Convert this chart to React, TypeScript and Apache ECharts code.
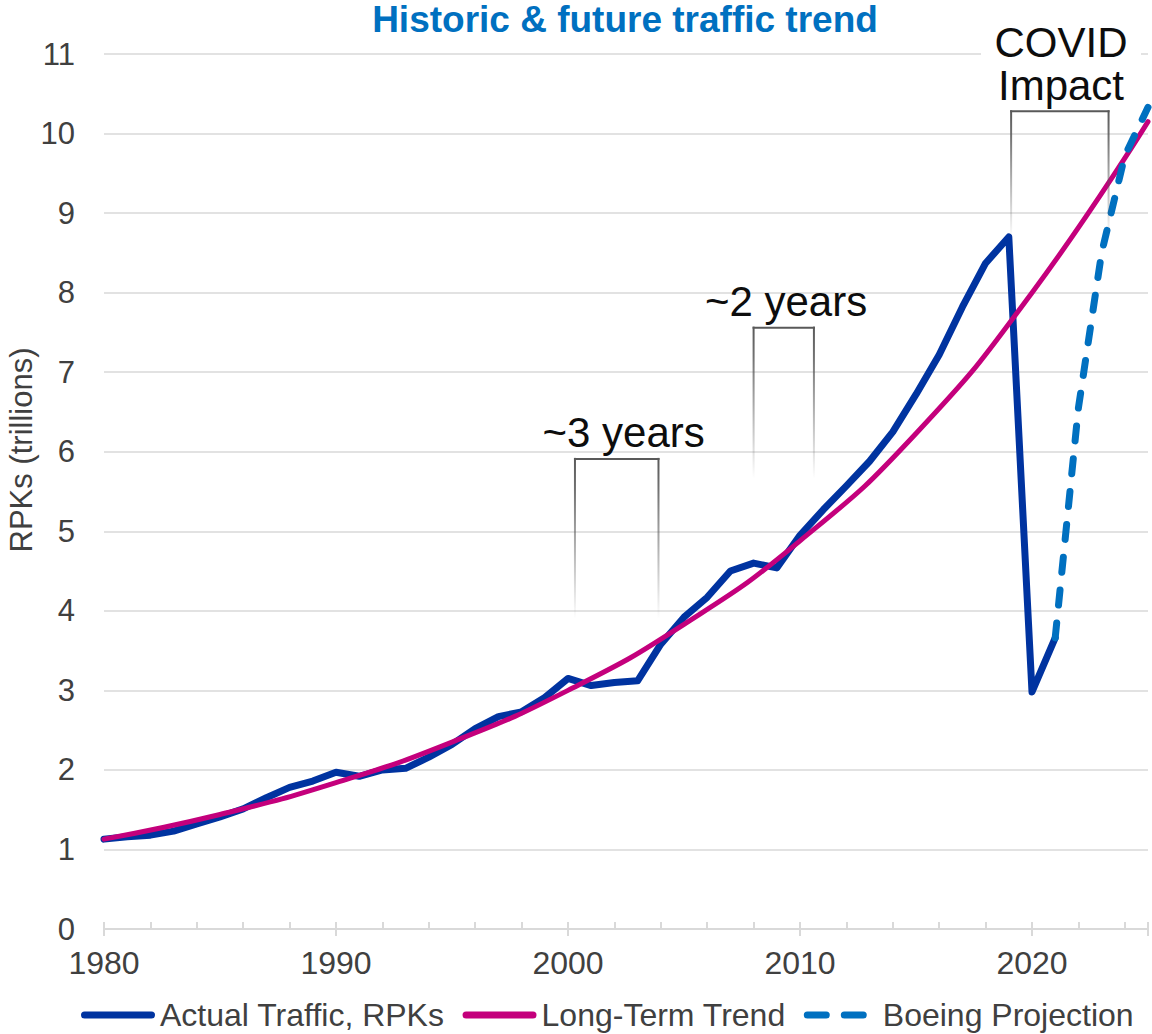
import React, { useEffect, useRef } from "react";
import * as echarts from "echarts";

const actualYears = [1980,1981,1982,1983,1984,1985,1986,1987,1988,1989,1990,1991,1992,1993,1994,1995,1996,1997,1998,1999,2000,2001,2002,2003,2004,2005,2006,2007,2008,2009,2010,2011,2012,2013,2014,2015,2016,2017,2018,2019,2020,2021];
const actualValues = [1.13,1.16,1.18,1.23,1.32,1.41,1.51,1.65,1.78,1.86,1.97,1.92,2.0,2.02,2.16,2.32,2.52,2.67,2.73,2.91,3.15,3.06,3.1,3.12,3.58,3.92,4.17,4.5,4.6,4.54,4.95,5.27,5.57,5.88,6.25,6.72,7.22,7.82,8.37,8.7,2.98,3.66];

const trendYears = [1980,1985,1990,1995,2000,2005,2010,2015,2020,2025];
const trendValues = [1.13,1.44,1.84,2.35,3.0,3.83,4.88,6.23,8.0,10.15];

const projYears = [2021,2022,2023,2024,2025];
const projValues = [3.66,6.55,8.5,9.72,10.33];

const yTicks = [0,1,2,3,4,5,6,7,8,9,10,11];

const seriesNames = ["Actual Traffic, RPKs", "Long-Term Trend", "Boeing Projection"];

// annotation brackets in data units
const brackets = [
  { label: "~3 years", x1: 2000.3, x2: 2003.9, labelX: 2002.4, top: 5.91, bottom: 3.89 },
  { label: "~2 years", x1: 2008.0, x2: 2010.6, labelX: 2009.4, top: 7.56, bottom: 5.65 },
  { label: "COVID\nImpact", x1: 2019.1, x2: 2023.3, labelX: 2021.25, top: 10.28, bottom: 8.67 },
];

const FONT = "'Liberation Sans', Arial, sans-serif";
const GRAY = "#404040";

const SOLID_ICON = "path://M3.5,0H70.5A3.5,3.5,0,0,1,70.5,7H3.5A3.5,3.5,0,0,1,3.5,0Z";
const DASH_ICON =
  "path://M3.5,0H22.5A3.5,3.5,0,0,1,22.5,7H3.5A3.5,3.5,0,0,1,3.5,0Z" +
  "M40.5,0H59.5A3.5,3.5,0,0,1,59.5,7H40.5A3.5,3.5,0,0,1,40.5,0Z" +
  "M74,3.5L74,3.5Z";

export default function App() {
  const ref = useRef<HTMLDivElement>(null);
  useEffect(() => {
    if (!ref.current) return;
    const chart = echarts.init(ref.current, null, { renderer: "svg" });
    const zip = (xs: number[], ys: number[]) => xs.map((x, i) => [x, ys[i]]);
    chart.setOption({
      animation: false,
      textStyle: { fontFamily: FONT },
      grid: { left: 104, right: 4, top: 54, bottom: 105, containLabel: false },
      legend: {
        left: 81,
        top: 999,
        padding: 0,
        itemWidth: 74,
        itemHeight: 7,
        itemGap: 18,
        data: [
          { name: seriesNames[0], icon: SOLID_ICON },
          { name: seriesNames[1], icon: SOLID_ICON },
          { name: seriesNames[2], icon: DASH_ICON },
        ],
        textStyle: { fontSize: 32, color: GRAY, fontFamily: FONT },
      },
      xAxis: [
        {
          type: "value",
          min: 1980,
          max: 2025,
          interval: 2,
          axisLine: { show: true, lineStyle: { color: "#d9d9d9", width: 2 } },
          axisTick: { show: true, inside: true, length: 7, lineStyle: { color: "#d9d9d9", width: 2 } },
          axisLabel: {
            fontSize: 32,
            color: GRAY,
            margin: 18,
            fontFamily: FONT,
            formatter: (v: number) => (v % 10 === 0 ? String(v) : ""),
          },
          splitLine: { show: false },
        },
        {
          type: "value",
          min: 1980,
          max: 2025,
          interval: 10,
          position: "bottom",
          axisLine: { show: false },
          axisTick: { show: true, inside: false, length: 7, lineStyle: { color: "#d9d9d9", width: 2 } },
          axisLabel: { show: false },
          splitLine: { show: false },
        },
      ],
      yAxis: {
        type: "value",
        min: yTicks[0],
        max: yTicks[yTicks.length - 1],
        interval: 1,
        axisLine: { show: false },
        axisTick: { show: false },
        axisLabel: { fontSize: 31, color: GRAY, margin: 29, fontFamily: FONT },
        splitLine: { lineStyle: { color: "#d9d9d9", width: 1.5 } },
      },
      series: [
        {
          name: seriesNames[0],
          type: "line",
          xAxisIndex: 0,
          data: zip(actualYears, actualValues),
          symbol: "none",
          color: "#0033a0",
          lineStyle: { width: 7, color: "#0033a0", cap: "round", join: "round" },
          z: 2,
        },
        {
          name: seriesNames[1],
          type: "line",
          xAxisIndex: 0,
          data: zip(trendYears, trendValues),
          symbol: "none",
          smooth: true,
          color: "#c4007c",
          lineStyle: { width: 5, color: "#c4007c", cap: "round" },
          z: 3,
        },
        {
          name: seriesNames[2],
          type: "line",
          xAxisIndex: 0,
          data: zip(projYears, projValues),
          symbol: "none",
          color: "#0070c0",
          lineStyle: { width: 7, color: "#0070c0", type: [15, 18], cap: "round", join: "round" },
          z: 4,
        },
      ],
    });

    const px = (x: number, y: number) => chart.convertToPixel({ seriesIndex: 0 }, [x, y]) as number[];
    const graphics: any[] = [];
    graphics.push({
      type: "text",
      x: 625,
      y: 19,
      style: {
        text: "Historic & future traffic trend",
        font: `bold 37px ${FONT}`,
        fill: "#0070c0",
        textAlign: "center",
        textVerticalAlign: "middle",
      },
      z: 10,
    });
    graphics.push({
      type: "text",
      x: 21,
      y: 450,
      rotation: Math.PI / 2,
      style: {
        text: "RPKs (trillions)",
        font: `31px ${FONT}`,
        fill: GRAY,
        textAlign: "center",
        textVerticalAlign: "middle",
      },
      z: 10,
    });
    brackets.forEach((b) => {
      const [xl, yt] = px(b.x1, b.top);
      const [xr, yb] = px(b.x2, b.bottom);
      const cx = px(b.labelX, b.top)[0];
      const grad = new echarts.graphic.LinearGradient(0, 0, 0, 1, [
        { offset: 0, color: "rgba(89,89,89,1)" },
        { offset: 0.2, color: "rgba(89,89,89,0.85)" },
        { offset: 1, color: "rgba(89,89,89,0)" },
      ]);
      graphics.push({ type: "rect", shape: { x: xl - 1, y: yt - 1, width: xr - xl + 2, height: 2 }, style: { fill: "#595959" }, z: 8 });
      graphics.push({ type: "rect", shape: { x: xl - 1, y: yt - 1, width: 2, height: yb - yt }, style: { fill: grad }, z: 8 });
      graphics.push({ type: "rect", shape: { x: xr - 1, y: yt - 1, width: 2, height: yb - yt }, style: { fill: grad }, z: 8 });
      const lines = b.label.split("\n");
      if (lines.length > 1) {
        graphics.push({
          type: "rect",
          shape: { x: cx - 80, y: yt - 26 - 43 * (lines.length - 1) - 26, width: 160, height: 43 * lines.length + 8 },
          style: { fill: "#ffffff" },
          z: 7,
        });
      }
      lines.forEach((ln, i) => {
        graphics.push({
          type: "text",
          x: cx,
          y: yt - 26 - 43 * (lines.length - 1 - i),
          style: {
            text: ln,
            font: `42px ${FONT}`,
            fill: "#0d0d0d",
            textAlign: "center",
            textVerticalAlign: "middle",
          },
          z: 9,
        });
      });
    });
    chart.setOption({ graphic: graphics });
    return () => chart.dispose();
  }, []);
  return (
    <div
      ref={ref}
      style={{ position: "fixed", left: 0, top: 0, width: 1152, height: 1034, background: "#ffffff" }}
    />
  );
}
